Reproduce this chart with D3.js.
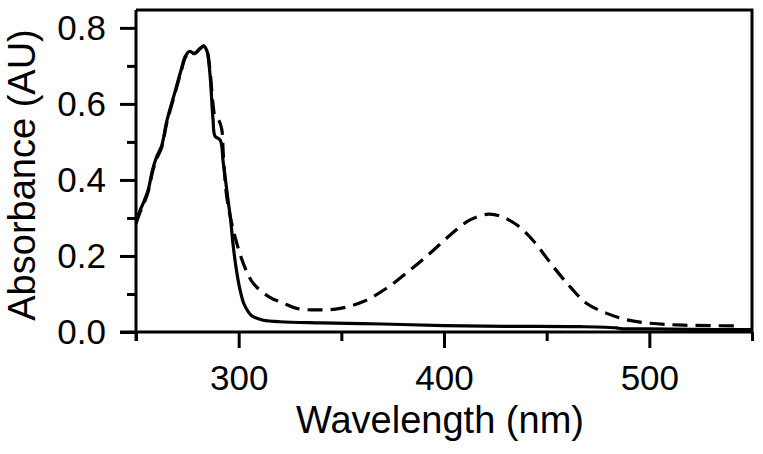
<!DOCTYPE html>
<html>
<head>
<meta charset="utf-8">
<script src="https://cdn.jsdelivr.net/npm/d3@7"></script>
<style>
  html, body { margin: 0; padding: 0; background: #fff; }
  svg { display: block; }
  text { font-family: "Liberation Sans", Arial, Helvetica, sans-serif; fill: #000; }
</style>
</head>
<body>
<svg id="chart" width="763" height="454"></svg>
<script>
// ---- data ----
const solidWavelength = [250, 252, 254, 256, 258, 260, 262.5, 265, 269, 272, 274, 276, 278.5, 281, 283, 284.5, 286, 287.5, 288.5, 291, 292.5, 295, 296, 297.4, 299, 300.7, 302.5, 304.7, 306.5, 309, 312, 320, 340, 370, 400, 430, 466, 484, 486, 500, 520, 550];
const solidAbsorbance = [0.29, 0.32, 0.345, 0.375, 0.425, 0.46, 0.49, 0.555, 0.632, 0.69, 0.725, 0.738, 0.733, 0.745, 0.752, 0.74, 0.68, 0.56, 0.515, 0.505, 0.445, 0.34, 0.30, 0.224, 0.16, 0.11, 0.075, 0.053, 0.042, 0.036, 0.031, 0.027, 0.024, 0.021, 0.017, 0.015, 0.014, 0.011, 0.009, 0.008, 0.007, 0.006];

const dashedWavelength = [250, 252, 254, 256, 258, 260, 262.5, 265, 269, 272, 274, 276, 278.5, 281, 283, 284.5, 286, 287.5, 288.5, 290, 291.7, 292.5, 294.2, 297.4, 302.3, 307.1, 315, 321.7, 328.3, 338, 349.4, 360.7, 372, 383.5, 393.2, 403, 412.7, 421.6, 427.3, 435.4, 443.5, 453.2, 461.4, 469.5, 479.3, 489, 500.4, 516.6, 545];
const dashedAbsorbance = [0.285, 0.315, 0.34, 0.37, 0.42, 0.455, 0.485, 0.55, 0.628, 0.686, 0.722, 0.736, 0.732, 0.744, 0.753, 0.742, 0.69, 0.6, 0.568, 0.56, 0.535, 0.47, 0.356, 0.268, 0.18, 0.128, 0.092, 0.076, 0.062, 0.058, 0.062, 0.080, 0.115, 0.163, 0.207, 0.255, 0.295, 0.310, 0.305, 0.282, 0.24, 0.172, 0.119, 0.075, 0.049, 0.032, 0.023, 0.018, 0.016];

const xMajorTicks = [300, 400, 500];
const xMinorTicks = [250, 350, 450, 550];
const yMajorTicks = [0.0, 0.2, 0.4, 0.6, 0.8];
const yMinorTicks = [0.1, 0.3, 0.5, 0.7];
const xDomain = [250, 550];
const yDomain = [0, 0.847];
const xTitle = "Wavelength (nm)";
const yTitle = "Absorbance (AU)";

// ---- layout ----
const mLeft = 136, mRight = 752, mTop = 10, mBottom = 332;
const svg = d3.select("#chart");

const x = d3.scaleLinear().domain(xDomain).range([mLeft, mRight]);
const y = d3.scaleLinear().domain(yDomain).range([mBottom, mTop]);

const lineGen = d3.line()
  .x(d => x(d[0]))
  .y(d => y(d[1]))
  .curve(d3.curveCatmullRom.alpha(0.5));

const solid = solidWavelength.map((w, i) => [w, solidAbsorbance[i]]);
const dashed = dashedWavelength.map((w, i) => [w, dashedAbsorbance[i]]);

// curves
svg.append("path")
  .attr("d", lineGen(solid))
  .attr("fill", "none")
  .attr("stroke", "#000")
  .attr("stroke-width", 3.2)
  .attr("stroke-linejoin", "round");

svg.append("path")
  .attr("d", lineGen(dashed))
  .attr("fill", "none")
  .attr("stroke", "#000")
  .attr("stroke-width", 3.2)
  .attr("stroke-dasharray", "15,8");

// frame (top & right)
svg.append("path")
  .attr("d", `M${mLeft},${mTop}H${mRight}V${mBottom}`)
  .attr("fill", "none")
  .attr("stroke", "#000")
  .attr("stroke-width", 3);

// x axis
const xAxisMajor = d3.axisBottom(x).tickValues(xMajorTicks).tickSize(16).tickSizeOuter(0).tickPadding(17).tickFormat(d3.format("d"));
const gx = svg.append("g").attr("transform", `translate(0,${mBottom})`).call(xAxisMajor);
gx.select(".domain").attr("stroke-width", 3).attr("d", `M${mLeft - 16},0H${mRight}`);
gx.selectAll(".tick line").attr("stroke-width", 3);
gx.selectAll(".tick text").attr("font-size", 35).attr("font-family", "Liberation Sans, Arial, sans-serif");

const xAxisMinor = d3.axisBottom(x).tickValues(xMinorTicks).tickSize(9).tickSizeOuter(0).tickFormat("");
const gx2 = svg.append("g").attr("transform", `translate(0,${mBottom})`).call(xAxisMinor);
gx2.select(".domain").remove();
gx2.selectAll(".tick line").attr("stroke-width", 3);

// y axis
const yAxisMajor = d3.axisLeft(y).tickValues(yMajorTicks).tickSize(16).tickSizeOuter(0).tickPadding(14).tickFormat(d3.format(".1f"));
const gy = svg.append("g").attr("transform", `translate(${mLeft},0)`).call(yAxisMajor);
gy.select(".domain").attr("stroke-width", 3).attr("d", `M0,${mTop}V${mBottom + 9}`);
gy.selectAll(".tick line").attr("stroke-width", 3);
gy.selectAll(".tick text").attr("font-size", 35).attr("font-family", "Liberation Sans, Arial, sans-serif");

const yAxisMinor = d3.axisLeft(y).tickValues(yMinorTicks).tickSize(9).tickSizeOuter(0).tickFormat("");
const gy2 = svg.append("g").attr("transform", `translate(${mLeft},0)`).call(yAxisMinor);
gy2.select(".domain").remove();
gy2.selectAll(".tick line").attr("stroke-width", 3);

// titles
svg.append("text")
  .attr("x", 440)
  .attr("y", 433)
  .attr("text-anchor", "middle")
  .attr("font-size", 38)
  .text(xTitle);

svg.append("text")
  .attr("transform", "translate(35,175) rotate(-90)")
  .attr("text-anchor", "middle")
  .attr("font-size", 38)
  .text(yTitle);
</script>
</body>
</html>
